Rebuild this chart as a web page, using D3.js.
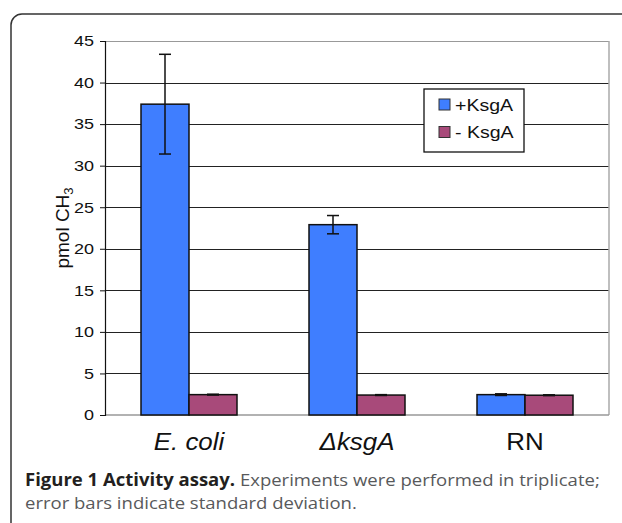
<!DOCTYPE html>
<html>
  <head>
    <script src="https://d3js.org/d3.v7.min.js"></script>
    <style>
      body { margin: 0; background: #fff; }
    </style>
  </head>
  <body>
    <div id="chart"></div>
    <script>
      // data
      var categories = ["E. coli", "ΔksgA", "RN"];
      var series = ["+KsgA", "- KsgA"];
      var plusValues = [37.4, 22.9, 2.45];
      var plusErrors = [6.0, 1.1, 0.1];
      var minusValues = [2.45, 2.4, 2.38];
      var minusErrors = [0.05, 0.05, 0.05];
      var yTicks = [0, 5, 10, 15, 20, 25, 30, 35, 40, 45];

      var width = 622, height = 523;
      var colors = { "+KsgA": "#3f7eff", "- KsgA": "#a84a7a" };

      var rows = categories.map(function(c, i) {
        return {
          cat: c,
          bars: [
            { s: series[0], v: plusValues[i], e: plusErrors[i] },
            { s: series[1], v: minusValues[i], e: minusErrors[i] }
          ]
        };
      });

      var svg = d3.select("#chart").append("svg")
        .attr("width", width)
        .attr("height", height)
        .style("font-family", "'Liberation Sans', Arial, sans-serif");

      // outer rounded frame (runs off the right and bottom edge)
      svg.append("rect")
        .attr("x", 11).attr("y", 14)
        .attr("width", 650).attr("height", 560)
        .attr("rx", 11)
        .style("fill", "none")
        .style("stroke", "#333")
        .style("stroke-width", 1.5);

      var plotLeft = 105, plotRight = 609, plotTop = 41, plotBottom = 415;

      var x0 = d3.scaleBand()
        .domain(categories)
        .range([plotLeft, plotRight])
        .paddingInner(72 / 168)
        .paddingOuter(36 / 168);

      var x1 = d3.scaleBand()
        .domain(series)
        .range([0, x0.bandwidth()]);

      var y = d3.scaleLinear()
        .domain([0, 45])
        .range([plotBottom, plotTop]);

      // gridlines
      svg.append("g").selectAll("line")
        .data(yTicks.slice(1))
        .enter().append("line")
        .attr("x1", plotLeft).attr("x2", plotRight)
        .attr("y1", function(d) { return Math.round(y(d)) + 0.5; })
        .attr("y2", function(d) { return Math.round(y(d)) + 0.5; })
        .style("stroke", function(d) { return d == 45 ? "#999" : "#222"; })
        .style("stroke-width", 1);

      // right border + bottom axis
      svg.append("line")
        .attr("x1", plotRight).attr("x2", plotRight)
        .attr("y1", plotTop).attr("y2", plotBottom)
        .style("stroke", "#aaa").style("stroke-width", 1.5);
      svg.append("line")
        .attr("x1", plotLeft).attr("x2", plotRight)
        .attr("y1", plotBottom).attr("y2", plotBottom)
        .style("stroke", "#999").style("stroke-width", 1.5);

      // y axis
      var yAxis = svg.append("g")
        .attr("transform", "translate(" + plotLeft + ",0)")
        .call(d3.axisLeft(y).tickValues(yTicks).tickSize(5).tickPadding(0));
      yAxis.select(".domain").style("stroke", "#111").style("stroke-width", 1.2);
      yAxis.selectAll(".tick line").style("stroke", "#111");
      yAxis.selectAll(".tick text")
        .attr("x", -9.2)
        .attr("transform", "scale(1.2,1)")
        .style("font-size", "15px")
        .style("font-family", "'Liberation Sans', Arial, sans-serif")
        .style("fill", "#111");

      // bars
      var groups = svg.append("g").selectAll("g")
        .data(rows)
        .enter().append("g")
        .attr("transform", function(d) { return "translate(" + x0(d.cat) + ",0)"; });

      groups.selectAll("rect")
        .data(function(d) { return d.bars; })
        .enter().append("rect")
        .attr("x", function(d) { return x1(d.s); })
        .attr("y", function(d) { return y(d.v); })
        .attr("width", x1.bandwidth())
        .attr("height", function(d) { return y(0) - y(d.v); })
        .style("fill", function(d) { return colors[d.s]; })
        .style("stroke", "#111")
        .style("stroke-width", 1.5);

      // error bars
      var err = groups.selectAll(".err")
        .data(function(d) { return d.bars; })
        .enter().append("g")
        .attr("class", "err")
        .attr("transform", function(d) { return "translate(" + (x1(d.s) + x1.bandwidth() / 2) + ",0)"; })
        .style("stroke", "#111")
        .style("stroke-width", 1.5);
      err.append("line")
        .attr("y1", function(d) { return y(d.v + d.e); })
        .attr("y2", function(d) { return y(d.v - d.e); });
      err.append("line")
        .attr("x1", -6).attr("x2", 6)
        .attr("y1", function(d) { return y(d.v + d.e); })
        .attr("y2", function(d) { return y(d.v + d.e); });
      err.append("line")
        .attr("x1", -6).attr("x2", 6)
        .attr("y1", function(d) { return y(d.v - d.e); })
        .attr("y2", function(d) { return y(d.v - d.e); });

      // category labels
      svg.append("g").selectAll("text")
        .data(categories)
        .enter().append("text")
        .attr("transform", function(d) {
          return "translate(" + (x0(d) + x0.bandwidth() / 2) + ",450) scale(1.08,1)";
        })
        .attr("text-anchor", "middle")
        .style("font-size", "24px")
        .style("font-style", function(d) { return d == "RN" ? "normal" : "italic"; })
        .style("fill", "#111")
        .text(function(d) { return d; });

      // y axis title
      var yt = svg.append("text")
        .attr("transform", "translate(69," + ((plotTop + plotBottom) / 2) + ") rotate(-90)")
        .attr("text-anchor", "middle")
        .style("font-size", "19px")
        .style("fill", "#111");
      yt.append("tspan").text("pmol CH");
      yt.append("tspan").attr("dy", "0.3em").style("font-size", "13px").text("3");

      // legend
      var lg = svg.append("g").attr("transform", "translate(424,89)");
      lg.append("rect")
        .attr("width", 100).attr("height", 63)
        .style("fill", "#fff")
        .style("stroke", "#111")
        .style("stroke-width", 1.3);
      var item = lg.selectAll(".item")
        .data(series)
        .enter().append("g")
        .attr("class", "item")
        .attr("transform", function(d, i) { return "translate(15," + (10 + i * 27.5) + ")"; });
      item.append("rect")
        .attr("width", 11).attr("height", 11)
        .style("fill", function(d) { return colors[d]; })
        .style("stroke", "#333")
        .style("stroke-width", 1);
      item.append("text")
        .attr("transform", "translate(16,11.5) scale(1.15,1)")
        .style("font-size", "17px")
        .style("fill", "#111")
        .text(function(d) { return d; });

      // caption
      var cap = svg.append("g")
        .attr("transform", "translate(25,0) scale(1.09,1)")
        .style("font-family", "'Open Sans', sans-serif")
        .style("font-size", "17px");
      var l1 = cap.append("text").attr("x", 0).attr("y", 486);
      l1.append("tspan").style("font-weight", "bold").style("fill", "#231f20").text("Figure 1 Activity assay.");
      l1.append("tspan").style("fill", "#58595b").text(" Experiments were performed in triplicate;");
      cap.append("text").attr("x", 0).attr("y", 509)
        .style("fill", "#58595b")
        .text("error bars indicate standard deviation.");
    </script>
  </body>
</html>
